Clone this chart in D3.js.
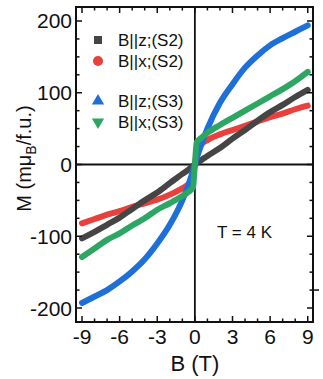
<!DOCTYPE html>
<html>
<head>
<meta charset="utf-8">
<script src="https://cdn.jsdelivr.net/npm/d3@7"></script>
<style>
  body { margin: 0; background: #fff; }
  svg { display: block; font-family: 'Liberation Sans', Arial, sans-serif; }
</style>
</head>
<body>
<div id="chart"></div>
<script>
// field values (T) shared by all curves
const fieldB = [-9, -8, -7, -6, -5, -4, -3, -2, -1, -0.5, -0.15, 0, 0.15, 0.5, 1, 2, 3, 4, 5, 6, 7, 8, 9]

// magnetisation (m muB / f.u.)
const mZ_S2 = [-103, -94, -84, -74, -62, -50, -39, -26, -13, -7, -2, 0, 2, 6, 12, 23, 36, 48, 61, 73, 83, 94, 104]
const mX_S2 = [-82, -76, -70, -65, -59, -54, -49, -42, -33, -27, -16, 0, 17, 28, 34, 42, 48, 54, 60, 66, 71, 77, 82]
const mZ_S3 = [-193, -184, -175, -163, -149, -132, -110, -84, -50, -28, -9, 0, 9, 27, 50, 86, 112, 135, 152, 166, 176, 185, 194]
const mX_S3 = [-129, -117, -105, -96, -85, -75, -63, -54, -44, -38, -32, 0, 31, 37, 44, 55, 65, 75, 85, 95, 105, 116, 129]

const seriesNames = ['B||z;(S2)', 'B||x;(S2)', 'B||z;(S3)', 'B||x;(S3)']
const xTicks = [-9, -6, -3, 0, 3, 6, 9]
const yTicks = [-200, -100, 0, 100, 200]

const width = 323, height = 379
const margin = { top: 7, right: 10, bottom: 57, left: 76 }

const svg = d3.select('#chart').append('svg')
  .attr('width', width)
  .attr('height', height)

const x = d3.scaleLinear().domain([-9.48, 9.42]).range([margin.left, width - margin.right])
const y = d3.scaleLinear().domain([-219.5, 219.5]).range([height - margin.bottom, margin.top])

const series = [
  { name: seriesNames[0], values: mZ_S2, color: '#454545', symbol: d3.symbolSquare },
  { name: seriesNames[1], values: mX_S2, color: '#e8413d', symbol: d3.symbolCircle },
  { name: seriesNames[2], values: mZ_S3, color: '#1f6fd9', symbol: d3.symbolTriangle },
  { name: seriesNames[3], values: mX_S3, color: '#2ea663', symbol: d3.symbolTriangle, flip: true }
]

// zero lines
svg.append('line')
  .attr('x1', x.range()[0]).attr('x2', x.range()[1])
  .attr('y1', y(0)).attr('y2', y(0))
  .attr('stroke', '#111').attr('stroke-width', 1.8)
svg.append('line')
  .attr('x1', x(0)).attr('x2', x(0))
  .attr('y1', y.range()[0]).attr('y2', y.range()[1])
  .attr('stroke', '#111').attr('stroke-width', 1.8)

// curves
const line = d3.line()
  .x((d, i) => x(fieldB[i]))
  .y(d => y(d))
  .curve(d3.curveMonotoneX)

const drawOrder = [1, 0, 2, 3]
drawOrder.forEach(k => {
  svg.append('path')
    .attr('d', line(series[k].values))
    .attr('fill', 'none')
    .attr('stroke', series[k].color)
    .attr('stroke-width', 6)
    .attr('stroke-linecap', 'round')
    .attr('stroke-linejoin', 'round')
})

// axes: inward ticks, minor and major
const xMinor = d3.range(-9, 10, 1)
const yMinor = d3.range(-200, 201, 25)

const axes = svg.append('g').attr('stroke', '#111')

const bottomY = y.range()[0], topY = y.range()[1]
const leftX = x.range()[0], rightX = x.range()[1]

xMinor.forEach(v => {
  const len = v % 3 === 0 ? 6 : 3.5
  axes.append('line').attr('x1', x(v)).attr('x2', x(v))
    .attr('y1', bottomY).attr('y2', bottomY - len).attr('stroke-width', 1.5)
  axes.append('line').attr('x1', x(v)).attr('x2', x(v))
    .attr('y1', topY).attr('y2', topY + len).attr('stroke-width', 1.5)
})
yMinor.forEach(v => {
  const len = v % 100 === 0 ? 6 : 3.5
  axes.append('line').attr('y1', y(v)).attr('y2', y(v))
    .attr('x1', leftX).attr('x2', leftX + len).attr('stroke-width', 1.5)
  axes.append('line').attr('y1', y(v)).attr('y2', y(v))
    .attr('x1', rightX).attr('x2', rightX - len).attr('stroke-width', 1.5)
})
// stray outward tick seen on the right edge
axes.append('line').attr('y1', y(-175)).attr('y2', y(-175))
  .attr('x1', rightX).attr('x2', rightX + 6).attr('stroke-width', 1.5)

// frame
svg.append('rect')
  .attr('x', leftX).attr('y', topY)
  .attr('width', rightX - leftX).attr('height', bottomY - topY)
  .attr('fill', 'none').attr('stroke', '#111').attr('stroke-width', 2)

// tick labels
svg.append('g').selectAll('text').data(xTicks).join('text')
  .attr('x', d => x(d))
  .attr('y', 344)
  .attr('text-anchor', 'middle')
  .attr('font-size', 21)
  .attr('fill', '#111')
  .text(d => d)

svg.append('g').selectAll('text').data(yTicks).join('text')
  .attr('x', leftX - 4)
  .attr('y', d => y(d) + 7.5)
  .attr('text-anchor', 'end')
  .attr('font-size', 21)
  .attr('fill', '#111')
  .text(d => d)

// axis titles
svg.append('text')
  .attr('x', x(0))
  .attr('y', 371)
  .attr('text-anchor', 'middle')
  .attr('font-size', 22)
  .attr('fill', '#111')
  .text('B (T)')

const yTitle = svg.append('text')
  .attr('transform', `translate(31, ${y(0) - 6}) rotate(-90)`)
  .attr('text-anchor', 'middle')
  .attr('font-size', 20)
  .attr('fill', '#111')
yTitle.append('tspan').text('M (mμ')
yTitle.append('tspan').attr('font-size', 14).attr('dy', 5).text('B')
yTitle.append('tspan').attr('dy', -5).text('/f.u.)')

// legend
const legendRows = [40, 61, 101, 122]
series.forEach((s, i) => {
  const g = svg.append('g').attr('transform', `translate(98, ${legendRows[i]})`)
  g.append('path')
    .attr('d', d3.symbol().type(s.symbol).size(i === 1 ? 80 : 65)())
    .attr('transform', s.flip ? 'rotate(180)' : null)
    .attr('fill', s.color)
  g.append('text')
    .attr('x', 20)
    .attr('y', 6)
    .attr('font-size', 17)
    .attr('fill', '#111')
    .text(s.name)
})

svg.append('text')
  .attr('x', 217)
  .attr('y', 238)
  .attr('font-size', 17)
  .attr('fill', '#111')
  .text('T = 4 K')
</script>
</body>
</html>
